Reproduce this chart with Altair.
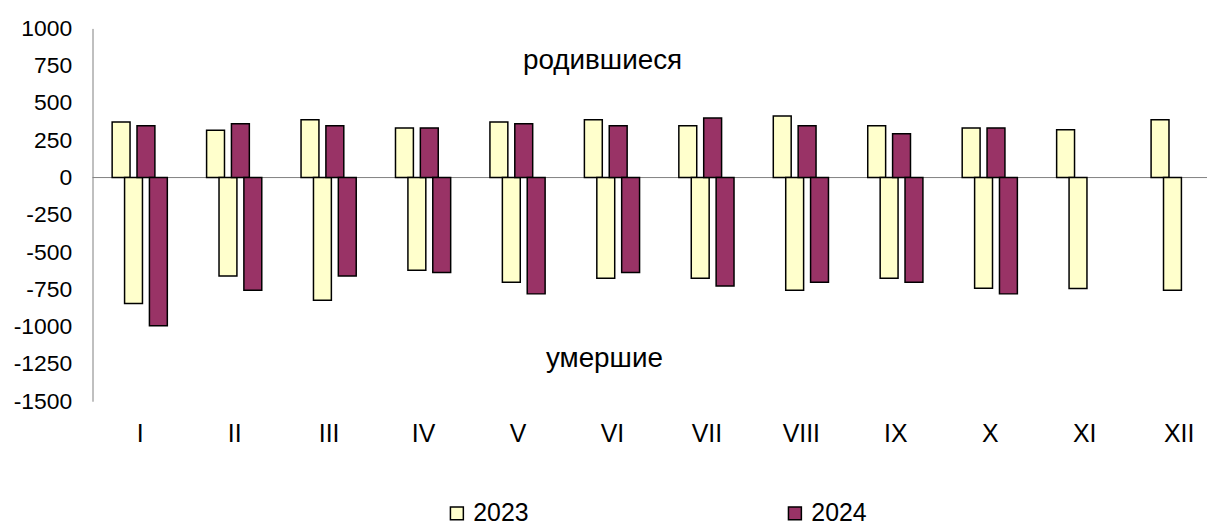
import altair as alt
import pandas as pd

months = ["I", "II", "III", "IV", "V", "VI", "VII", "VIII", "IX", "X", "XI", "XII"]
births_2023 = [373, 318, 387, 333, 373, 387, 347, 413, 347, 333, 320, 387]
births_2024 = [347, 360, 347, 333, 360, 347, 400, 347, 293, 333, None, None]
deaths_2023 = [-845, -660, -822, -622, -702, -676, -676, -755, -676, -742, -744, -755]
deaths_2024 = [-993, -755, -660, -636, -780, -636, -727, -702, -702, -780, None, None]
years = ["2023", "2024"]
colors = ["#FFFFCC", "#993366"]
ann_text = ["родившиеся", "умершие"]
ann_x = [4.9, 4.92]
ann_y = [725, -1267]

PX = 95.0  # pixels per month
BAR = 18.0
series = [
    ("2023", births_2023, 0),
    ("2023", deaths_2023, 1),
    ("2024", births_2024, 2),
    ("2024", deaths_2024, 3),
]
rows = []
for year, vals, k in series:
    for i, v in enumerate(vals):
        if v is None:
            continue
        x0 = i + (-27.75 + 12.5 * k) / PX
        rows.append({"month": months[i], "year": year, "value": v,
                     "x0": x0, "x1": x0 + BAR / PX, "zero": 0})
df = pd.DataFrame(rows)
ann = pd.DataFrame({"t": ann_text, "x": ann_x, "y": ann_y})

xmin, xmax = -0.5, 11.3
W = int(round((xmax - xmin) * PX))
H = 375

label_expr = "[" + ",".join(f"'{m}'" for m in months) + "][datum.value]"
xscale = alt.Scale(domain=[xmin, xmax], nice=False, zero=False)
yscale = alt.Scale(domain=[-1500, 1000], nice=False)

xaxis = alt.Axis(values=list(range(12)), labelExpr=label_expr, title=None,
                 ticks=False, domain=False, grid=False, labelPadding=20,
                 labelFontSize=25, labelColor="black", labelOverlap=False)
yaxis = alt.Axis(values=list(range(-1500, 1001, 250)), labelExpr="'' + datum.value",
                 title=None, ticks=False, grid=False, domainColor="#808080", labelPadding=21,
                 labelFontSize=23, labelColor="black", labelOverlap=False)

rule = alt.Chart(pd.DataFrame({"z": [0]})).mark_rule(color="#808080", strokeWidth=1).encode(
    y=alt.Y("z:Q", scale=yscale, axis=yaxis)
)

bars = alt.Chart(df).mark_rect(stroke="black", strokeWidth=1.5).encode(
    x=alt.X("x0:Q", scale=xscale, axis=xaxis),
    x2="x1:Q",
    y=alt.Y("value:Q", scale=yscale, axis=yaxis),
    y2="zero:Q",
    fill=alt.Fill("year:N", scale=alt.Scale(domain=years, range=colors),
                  legend=alt.Legend(title=None, orient="none", direction="horizontal",
                                    legendX=354, legendY=475, labelFontSize=25,
                                    symbolType="square", symbolSize=169,
                                    symbolStrokeColor="black", symbolStrokeWidth=1.5,
                                    columnPadding=255, labelOffset=4,
                                    labelColor="black")),
)

text = alt.Chart(ann).mark_text(fontSize=28, align="center", baseline="alphabetic",
                                color="black", font="Liberation Sans").encode(
    x=alt.X("x:Q", scale=xscale, axis=xaxis),
    y=alt.Y("y:Q", scale=yscale, axis=yaxis),
    text="t:N",
)

chart = alt.layer(rule, bars, text).properties(
    width=W, height=H,
    autosize=alt.AutoSizeParams(type="none"),
    padding={"left": 85, "top": 19, "right": 2, "bottom": 135},
).configure(font="Liberation Sans").configure_view(strokeWidth=0, stroke="transparent")

chart.save("out.html", embed_options={"renderer": "svg", "actions": False})
